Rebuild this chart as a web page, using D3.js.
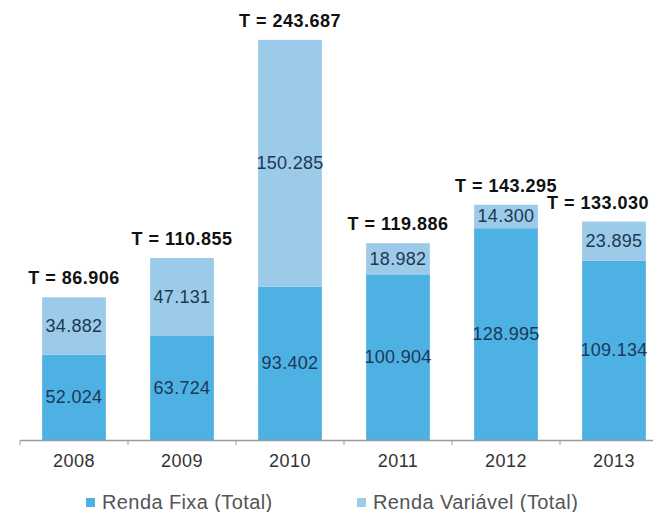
<!DOCTYPE html>
<html>
<head>
<meta charset="utf-8">
<script src="https://cdn.jsdelivr.net/npm/d3@7"></script>
<style>
  body { margin: 0; background: #fff; }
  text { font-family: "Liberation Sans", Arial, sans-serif; }
</style>
</head>
<body>
<script>
var years = ["2008", "2009", "2010", "2011", "2012", "2013"];
var rendaFixa = [52024, 63724, 93402, 100904, 128995, 109134];
var rendaVariavel = [34882, 47131, 150285, 18982, 14300, 23895];
var totais = [86906, 110855, 243687, 119886, 143295, 133030];
var seriesNames = ["Renda Fixa (Total)", "Renda Variável (Total)"];

chart();

function chart ()
{
    var width = 653, height = 512;
    var colors = ["#4eb1e4", "#9ccbe9"];
    var pt = d3.formatLocale({decimal: ",", thousands: ".", grouping: [3], currency: ["R$", ""]});
    var fmt = pt.format(",d");

    var data = years.map(function (y, i) {
        return {year: y, fixa: rendaFixa[i], variavel: rendaVariavel[i], total: totais[i]};
    });

    var svg = d3.select("body").append("svg")
        .attr("width", width)
        .attr("height", height);

    // escalas
    var x = d3.scaleBand().domain(years).range([20, 668])
        .paddingInner(0.41).paddingOuter(0.205);
    var y = d3.scaleLinear().domain([0, 250000]).range([440, 29.5]);

    var stack = d3.stack().keys(["fixa", "variavel"]);
    var layers = stack(data);

    var g = svg.selectAll("g.layer").data(layers).enter().append("g")
        .attr("class", "layer")
        .attr("fill", function (d, i) { return colors[i]; });

    g.selectAll("rect").data(function (d) { return d; }).enter().append("rect")
        .attr("x", function (d) { return x(d.data.year); })
        .attr("width", x.bandwidth())
        .attr("y", function (d) { return y(d[1]); })
        .attr("height", function (d) { return y(d[0]) - y(d[1]); });

    // rótulos internos
    g.selectAll("text").data(function (d) { return d; }).enter().append("text")
        .attr("x", function (d) { return x(d.data.year) + x.bandwidth() / 2; })
        .attr("y", function (d) { return (y(d[0]) + y(d[1])) / 2 + 6; })
        .attr("text-anchor", "middle")
        .attr("font-size", 18)
        .attr("letter-spacing", 0.3)
        .attr("fill", "#1d3856")
        .text(function (d) { return fmt(d[1] - d[0]); });

    // totais (acima da pilha)
    svg.selectAll("text.total").data(data).enter().append("text")
        .attr("class", "total")
        .attr("x", function (d) { return Math.min(x(d.year) + x.bandwidth() / 2, width - 55); })
        .attr("y", function (d) { return y(d.fixa + d.variavel) - 13; })
        .attr("text-anchor", "middle")
        .attr("font-size", 18)
        .attr("letter-spacing", 0.5)
        .attr("font-weight", "bold")
        .attr("fill", "#111")
        .text(function (d) { return "T = " + fmt(d.total); });

    // eixo x
    var xAxis = d3.axisBottom(x).tickSize(0).tickPadding(14);
    var ax = svg.append("g").attr("transform", "translate(0,440)").call(xAxis);
    ax.select(".domain").attr("stroke", "#999").attr("stroke-width", 1.5);
    ax.selectAll("text")
        .attr("font-size", 18)
        .attr("letter-spacing", 0.5)
        .attr("fill", "#333")
        .attr("font-family", "Liberation Sans, Arial, sans-serif");

    var step = x.step();
    var bounds = d3.range(years.length + 1).map(function (i) { return x(years[0]) - step * 0.205 + i * step; });
    ax.selectAll("line.sep").data(bounds).enter().append("line")
        .attr("class", "sep")
        .attr("x1", function (d) { return d; })
        .attr("x2", function (d) { return d; })
        .attr("y1", 0).attr("y2", 5)
        .attr("stroke", "#999");

    // legenda
    var legX = [86, 357];
    var leg = svg.selectAll("g.legend").data(seriesNames).enter().append("g")
        .attr("class", "legend")
        .attr("transform", function (d, i) { return "translate(" + legX[i] + ",509)"; });
    leg.append("rect")
        .attr("x", 0).attr("y", -11).attr("width", 9).attr("height", 9)
        .attr("fill", function (d, i) { return colors[i]; });
    leg.append("text")
        .attr("x", 16).attr("y", 0)
        .attr("font-size", 20)
        .attr("letter-spacing", 0.4)
        .attr("fill", "#555")
        .text(function (d) { return d; });
}
</script>
</body>
</html>
